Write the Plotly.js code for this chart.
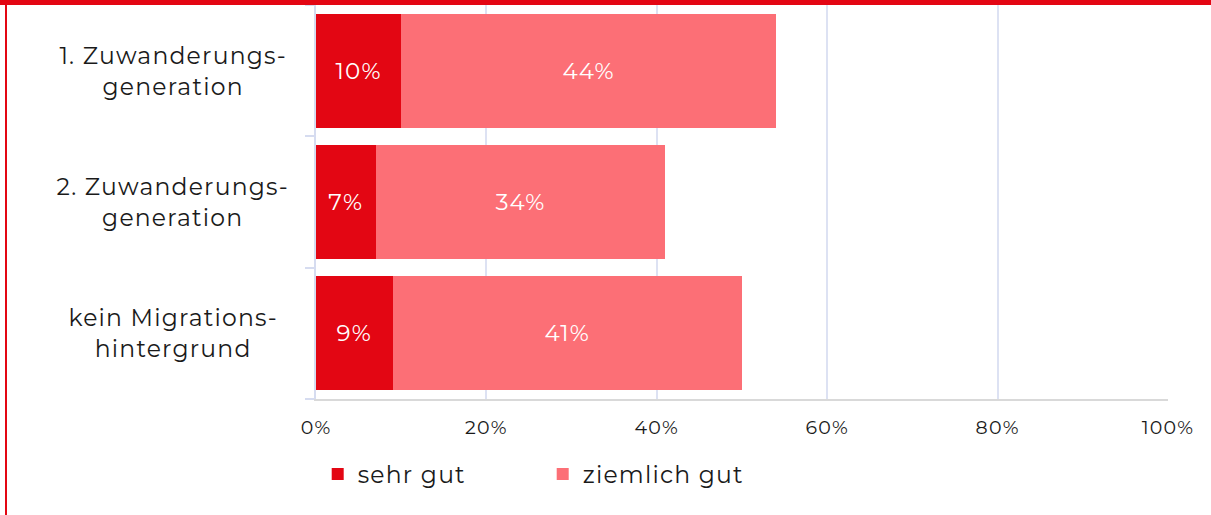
<!DOCTYPE html>
<html><head><meta charset="utf-8">
<script src="https://cdn.plot.ly/plotly-3.0.1.min.js"></script>
<style>
html,body{margin:0;padding:0;background:#fff;}
#wrap{position:relative;width:1211px;height:515px;}
#chart{position:absolute;left:0;top:0;width:1211px;height:515px;}
#chart text{letter-spacing:1.2px;}
.bt{position:absolute;left:0;top:0;width:1211px;height:5px;background:#e30613;}
.bl{position:absolute;left:5px;top:0;width:2px;height:515px;background:#e30613;}
</style></head>
<body>
<div id="wrap"><div id="chart"></div><div class="bt"></div><div class="bl"></div></div>
<script>
const categories = ["1. Zuwanderungs-<br>generation", "2. Zuwanderungs-<br>generation", "kein Migrations-<br>hintergrund"];
const sehrGut = [10, 7, 9];
const ziemlichGut = [44, 34, 41];
const seriesNames = ["sehr gut", "ziemlich gut"];
const xTickVals = [0, 20, 40, 60, 80, 100];
const xTickText = ["0%", "20%", "40%", "60%", "80%", "100%"];

const FONT = "Montserrat, 'Open Sans', sans-serif";
const mk = (vals, name, color) => ({
  type: 'bar', orientation: 'h', name: name,
  y: categories, x: vals,
  text: vals.map(v => v + '%'), textposition: 'inside', insidetextanchor: 'middle',
  textfont: {family: FONT, size: 23, color: '#ffffff'},
  marker: {color: color}, width: 0.87, hoverinfo: 'skip'
});
const data = [mk(sehrGut, seriesNames[0], '#e30613'), mk(ziemlichGut, seriesNames[1], '#fc6f76')];

const annotations = categories.map(c => ({
  xref: 'paper', yref: 'y', x: -0.168, y: c, xanchor: 'center', yanchor: 'middle',
  text: c, showarrow: false, align: 'center',
  font: {family: FONT, size: 23.5, color: '#1a1a1a'}
}));

const layout = {
  width: 1211, height: 515,
  margin: {l: 316, r: 43, t: 5, b: 116},
  barmode: 'stack', showlegend: true,
  paper_bgcolor: '#fff', plot_bgcolor: '#fff',
  font: {family: FONT, color: '#1a1a1a'},
  xaxis: {range: [0, 100], tickvals: xTickVals, ticktext: xTickText,
    showgrid: true, gridcolor: '#dde2f3', gridwidth: 2, zeroline: false,
    showline: true, linecolor: '#d9d9d9', linewidth: 2,
    tickfont: {family: FONT, size: 19, color: '#1a1a1a'}, ticks: '', ticklabelstandoff: 10},
  yaxis: {type: 'category', categoryorder: 'array', categoryarray: categories.slice().reverse(),
    showticklabels: false, showline: true, linecolor: '#d6dcf0', linewidth: 2,
    ticks: 'outside', tickson: 'boundaries', ticklen: 9, tickcolor: '#d6dcf0', tickwidth: 2,
    showgrid: false, zeroline: false},
  legend: {orientation: 'h', x: 0.002, xanchor: 'left', y: -0.135, yanchor: 'top',
    font: {family: FONT, size: 23.5, color: '#1a1a1a'}, itemwidth: 30, traceorder: 'normal',
    entrywidth: 180},
  annotations: annotations
};
Plotly.newPlot('chart', data, layout, {displayModeBar: false, staticPlot: true});
</script>
</body></html>
